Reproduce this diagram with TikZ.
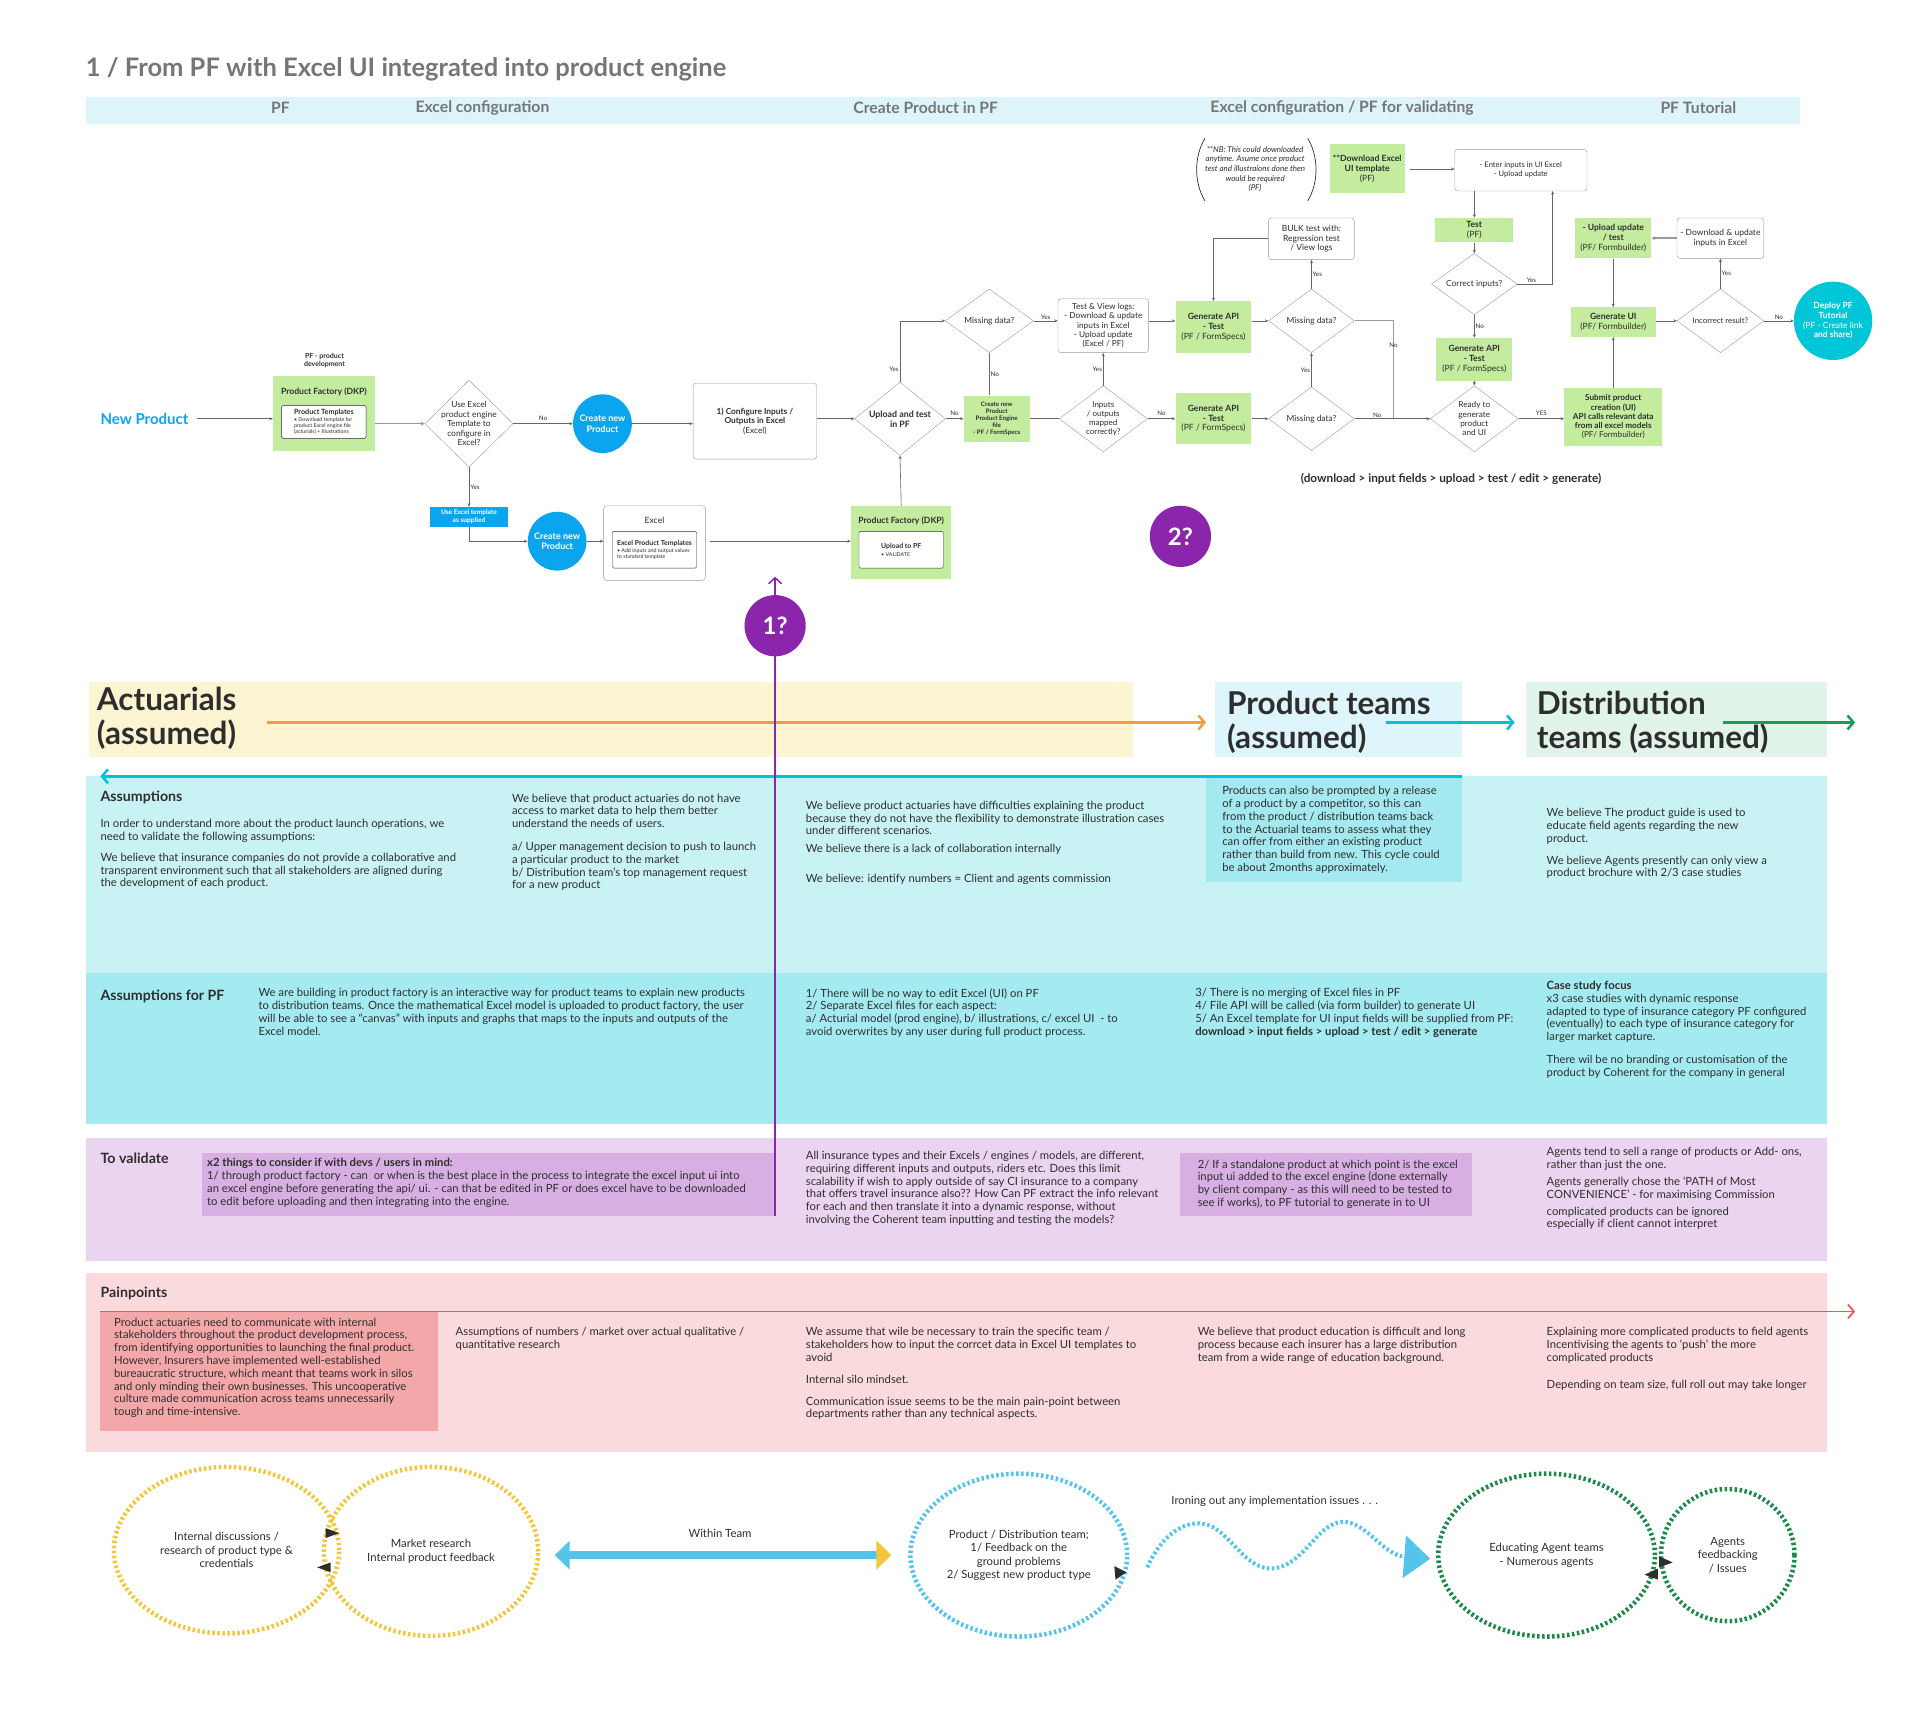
\documentclass[tikz,border=0pt]{standalone}
\usepackage{fontspec}
\setmainfont{Lato}
\usetikzlibrary{shapes.geometric,arrows.meta,positioning}

\definecolor{titlegray}{HTML}{767676}
\definecolor{headband}{HTML}{DDF4FB}
\definecolor{linegray}{HTML}{666666}
\definecolor{boxgray}{HTML}{9A9A9A}
\definecolor{darktxt}{HTML}{2E2E2E}
\definecolor{pfgreen}{HTML}{C3EC9E}
\definecolor{pfblue}{HTML}{0BA5EF}
\definecolor{tutcyan}{HTML}{00C6D8}
\definecolor{qpurple}{HTML}{8B25AC}
\definecolor{actyellow}{HTML}{FDF4D2}
\definecolor{prodblue}{HTML}{DDF5FB}
\definecolor{distgreen}{HTML}{E1F4EA}
\definecolor{arrorange}{HTML}{F59B46}
\definecolor{arrcyan}{HTML}{00C2D6}
\definecolor{arrgreen}{HTML}{1E9A58}
\definecolor{assband}{HTML}{C9F2F5}
\definecolor{assdark}{HTML}{A4E9F0}
\definecolor{pfband}{HTML}{A3EBF1}
\definecolor{valband}{HTML}{EAD4EF}
\definecolor{valdark}{HTML}{D7AFE2}
\definecolor{painband}{HTML}{FADADC}
\definecolor{paindark}{HTML}{F4A7A8}
\definecolor{painred}{HTML}{E8585E}
\definecolor{ringyellow}{HTML}{F2C73C}
\definecolor{ringcyan}{HTML}{54C4EC}
\definecolor{ringgreen}{HTML}{1C8A48}

\begin{document}
\begin{tikzpicture}[x=1.2245pt, y=-1.2245pt,
  dsz/.style 2 args={minimum width=#1*1.2245pt, minimum height=#2*1.2245pt},
  flow/.style={draw=linegray, line width=0.6pt, -{Stealth[length=3.5pt,width=3pt]}},
  link/.style={draw=linegray, line width=0.6pt},
  fatflow/.style={draw=boxgray, line width=1.4pt, -{Stealth[length=4pt,width=4pt]}},
  lbl/.style={font=\fontsize{6.3}{7}\selectfont, text=darktxt, inner sep=1pt},
  gbox/.style={fill=pfgreen, align=center, text=darktxt, inner sep=1pt, font=\bfseries\fontsize{8.6}{9.8}\selectfont},
  wbox/.style={draw=boxgray, fill=white, rounded corners=3pt, align=center, text=darktxt, inner sep=1pt, font=\fontsize{8.5}{9.5}\selectfont},
  inbox/.style={draw=darktxt, fill=white, rounded corners=1.5pt, align=left, text=darktxt, inner sep=2pt},
  decide/.style={diamond, draw=boxgray, fill=white, align=center, inner sep=-8pt, text=darktxt, font=\fontsize{8.4}{9.6}\selectfont},
  bluedot/.style={circle, fill=pfblue, text=white, align=center, inner sep=0pt, dsz={48}{48}, font=\bfseries\fontsize{9}{10.5}\selectfont},
  quest/.style={circle, fill=qpurple, text=white, inner sep=0pt, dsz={50}{50}, font=\bfseries\fontsize{24}{26}\selectfont},
  body/.style={anchor=north west, align=left, inner sep=0pt, text=darktxt, font=\fontsize{11.3}{12.8}\selectfont},
  bandhead/.style={anchor=west, inner sep=0pt, text=darktxt, font=\bfseries\fontsize{14.2}{16}\selectfont},
  teamhead/.style={anchor=west, align=left, inner sep=0pt, text=darktxt, font=\bfseries\fontsize{31.5}{34}\selectfont},
  teamarrow/.style={line width=2.5pt, -{Straight Barb[length=6pt,width=14pt]}},
  colhead/.style={inner sep=0pt, text=titlegray, font=\bfseries\fontsize{15.7}{17}\selectfont},
  ring/.style={ellipse, line width=4.5pt, dash pattern=on 2.5pt off 2.5pt, align=center, text=darktxt, font=\fontsize{11.3}{13.5}\selectfont},
]
\useasboundingbox (0,0) rectangle (1568,1407);
\fill[white] (0,0) rectangle (1568,1407);

% title and column header
\node[anchor=west, inner sep=0pt, text=titlegray, font=\bfseries\fontsize{25.5}{30}\selectfont] (title) at (70,57) {1 / From PF with Excel UI integrated into product engine};
\fill[headband] (70,79) rectangle (1470,101);
\node[colhead] (hPF) at (229,88) {PF};
\node[colhead] (hXl) at (394,88) {Excel configuration};
\node[colhead] (hCreate) at (756,88) {Create Product in PF};
\node[colhead] (hValid) at (1096,88) {Excel configuration / PF for validating};
\node[colhead] (hTut) at (1387,88) {PF Tutorial};

% flow: nodes
\node[anchor=west, inner sep=0pt, text=pfblue, font=\bfseries\fontsize{15}{18}\selectfont] (np) at (82,342) {New Product};
\node[align=center, text=darktxt, font=\bfseries\fontsize{7}{8}\selectfont] (pfdev) at (265,294) {PF - product\\development};
\node[gbox, dsz={83}{61}] (pfk) at (264.5,337.5) {};
\node[text=darktxt, font=\bfseries\fontsize{8.6}{9.5}\selectfont] (pfkT) at (264.5,320) {Product Factory (DKP)};
\node[inbox, dsz={69}{27}, font=\fontsize{5.3}{6.1}\selectfont] (pfkIn) at (264.5,344.5) {\textbf{\fontsize{7.2}{8}\selectfont Product Templates}\\• Download template for\\product Excel engine file\\(acturials) + Illustrations};
\node[decide, dsz={72}{71}] (d1) at (383,346) {Use Excel\\product engine\\Template to\\configure in\\Excel?};
\node[bluedot] (c1) at (492,346) {Create new\\Product};
\node[wbox, dsz={101}{62}, font=\bfseries\fontsize{8.3}{9.8}\selectfont] (cfg) at (616.5,344) {1) Configure Inputs /\\Outputs in Excel\\\mdseries (Excel)};
\node[decide, dsz={74}{60}, font=\bfseries\fontsize{8.8}{10}\selectfont] (d2) at (735,342) {Upload and test\\in PF};
\node[decide, dsz={72}{52}] (d3) at (808,262) {Missing data?};
\node[gbox, dsz={54}{38}, font=\bfseries\fontsize{6.2}{7}\selectfont] (gEng) at (814,342) {Create new\\Product\\Product Engine\\file\\- PF / FormSpecs};
\node[decide, dsz={72}{54}, font=\fontsize{8}{9.2}\selectfont] (d4) at (901,342) {Inputs\\/ outputs\\mapped\\correctly?};
\node[wbox, dsz={74}{44}, font=\fontsize{8.3}{9.2}\selectfont] (tv) at (901,266) {Test \& View logs:\\- Download \& update\\inputs in Excel\\- Upload update\\(Excel / PF)};
\node[gbox, dsz={62}{42}] (gApi1) at (991,267) {Generate API\\- Test\\\mdseries (PF / FormSpecs)};
\node[gbox, dsz={62}{42}] (gApi2) at (991,342) {Generate API\\- Test\\\mdseries (PF / FormSpecs)};
\node[decide, dsz={70}{52}] (d5) at (1071,262) {Missing data?};
\node[decide, dsz={70}{52}] (d6) at (1071,342) {Missing data?};
\node[wbox, dsz={70}{34}] (bulk) at (1071,195) {BULK test with:\\Regression test\\/ View logs};
\node[align=center, text=darktxt, font=\itshape\fontsize{8}{9.6}\selectfont] (nb) at (1025,138) {**NB: This could downloaded\\anytime. Asume once product\\test and illustraions done then\\would be required\\(PF)};
\draw[darktxt, line width=0.7pt] (984,113) .. controls (975,128) and (975,149) .. (984,164);
\draw[darktxt, line width=0.7pt] (1068,113) .. controls (1077,128) and (1077,149) .. (1068,164);
\node[gbox, dsz={61}{40}] (gDl) at (1116.5,138) {**Download Excel\\UI template\\\mdseries (PF)};
\node[wbox, dsz={108}{34}, font=\fontsize{7.6}{9}\selectfont] (enter) at (1242,139) {- Enter inputs in UI Excel\\- Upload update};
\node[gbox, dsz={64}{20}] (gTest) at (1204,188) {Test\\\mdseries (PF)};
\node[decide, dsz={70}{50}] (d7) at (1204,232) {Correct inputs?};
\node[gbox, dsz={62}{35}] (gApi3) at (1204,293.5) {Generate API\\- Test\\\mdseries (PF / FormSpecs)};
\node[decide, dsz={72}{54}, font=\fontsize{8.2}{9.4}\selectfont] (d8) at (1204,342) {Ready to\\generate\\product\\and UI};
\node[gbox, dsz={80}{47}, font=\bfseries\fontsize{8.2}{9.2}\selectfont] (gSub) at (1317.5,340.5) {Submit product\\creation (UI)\\API calls relevant data\\from all excel models\\\mdseries (PF/ Formbuilder)};
\node[gbox, dsz={69}{24}] (gUI) at (1317.5,263) {Generate UI\\\mdseries (PF/ Formbuilder)};
\node[gbox, dsz={62}{33}] (gUp) at (1317.5,194.5) {- Upload update\\/ test\\\mdseries (PF/ Formbuilder)};
\node[wbox, dsz={71}{33}] (dlx) at (1405,194.5) {- Download \& update\\inputs in Excel};
\node[decide, dsz={71}{52}, font=\fontsize{7.8}{9}\selectfont] (d9) at (1405,262) {Incorrect result?};
\node[circle, fill=tutcyan, text=white, align=center, inner sep=0pt, dsz={64}{64}, font=\bfseries\fontsize{8.5}{9.6}\selectfont] (deploy) at (1497,262) {Deploy PF\\Tutorial\\\mdseries (PF - Create link\\and share)};
\node[text=darktxt, font=\bfseries\fontsize{11.8}{13}\selectfont] (steps) at (1185,391) {(download > input fields > upload > test / edit > generate)};
\node[fill=pfblue, text=white, align=center, inner sep=0pt, dsz={64}{16}, font=\bfseries\fontsize{6.6}{7.4}\selectfont] (bUse) at (383,422) {Use Excel template\\as supplied};
\node[bluedot] (c2) at (455,442) {Create new\\Product};
\node[wbox, dsz={83}{61}] (xl) at (534.5,443.5) {};
\node[text=darktxt, font=\fontsize{8.6}{9.5}\selectfont] (xlT) at (534.5,425) {Excel};
\node[inbox, dsz={69}{30}, font=\fontsize{5.3}{6.2}\selectfont] (xlIn) at (534.5,449) {\textbf{\fontsize{6.9}{8}\selectfont Excel Product Templates}\\[1pt]• Add inputs and output values\\to standard template};
\node[gbox, dsz={82}{60}] (pfk2) at (736,443) {};
\node[text=darktxt, font=\bfseries\fontsize{8.6}{9.5}\selectfont] (pfk2T) at (736,425) {Product Factory (DKP)};
\node[inbox, dsz={69}{30}, font=\fontsize{5.3}{6.2}\selectfont] (pfk2In) at (736,449) {\textbf{\fontsize{6.9}{8}\selectfont Upload to PF}\\[2pt]• VALIDATE};
\node[quest] (q2) at (964,438) {2?};

% flow: connectors
\draw[flow, shorten <=8pt] (np.east) -- (np.east -| pfk.west);
\draw[fatflow] (pfk.east |- d1) -- (d1.west);
\draw[flow] (d1) -- (c1) node[lbl, midway, above=2pt] {No};
\draw[flow] (c1) -- (cfg.west |- c1);
\draw[flow] (cfg.east |- d2) -- (d2.west);
\draw[flow] (d2.north) |- (d3.west) node[lbl, pos=0.1, left] {Yes};
\draw[flow] (d2.east) -- (d2.east -| gEng.west) node[lbl, midway, above=2pt] {No};
\draw[link] (d3.south) -- (d3.south |- gEng.north) node[lbl, midway, right] {No};
\draw[flow] (d3.east) -- (d3.east -| tv.west) node[lbl, midway, above] {Yes};
\draw[link] (gEng) -- (d4);
\draw[flow] (d4.north) -- (tv.south) node[lbl, midway, left] {Yes};
\draw[flow] (d4) -- (gApi2) node[lbl, midway, above=2pt] {No};
\draw[flow] (tv.east |- d3) -- (gApi1.west |- d3);
\draw[flow] (gApi1.east |- d5) -- (d5.west);
\draw[flow] (gApi2) -- (d6);
\draw[flow] (d6.north) -- (d5.south) node[lbl, midway, left] {Yes};
\draw[flow] (d5.north) -- (bulk.south) node[lbl, midway, right] {Yes};
\draw[flow] (bulk.west) -| (gApi1.north);
\coordinate (j1) at (1138,262);
\draw[draw=boxgray, line width=1.3pt] (d5.east) -- (j1) |- (d8.west) node[lbl, pos=0.15, above=1pt, text=darktxt] {No};
\draw[flow] (d6) -- (d8) node[lbl, pos=0.3, above] {No};
\draw[flow, shorten <=5pt] (gDl) -- (enter.west |- gDl);
\draw[flow] (gTest.north |- enter.south) -- (gTest.north);
\draw[flow] (gTest) -- (d7);
\coordinate (e1) at (1268,156);
\draw[flow] (d7.east) -| (e1) node[lbl, pos=0.2, above] {Yes};
\draw[flow] (d7) -- (gApi3) node[lbl, midway, right] {No};
\draw[flow] (gApi3) -- (d8);
\draw[flow] (d8.east) -- (d8.east -| gSub.west) node[lbl, midway, above=2pt] {YES};
\draw[flow] (gSub) -- (gUI);
\draw[flow] (gUp) -- (gUI);
\draw[flow] (gUI.east |- d9) -- (d9.west);
\draw[flow] (d9) -- (dlx) node[lbl, midway, right] {Yes};
\draw[fatflow] (dlx) -- (gUp);
\draw[flow] (d9) -- (deploy) node[lbl, midway, above] {No};
\draw[flow] (d1) -- (bUse) node[lbl, midway, right] {Yes};
\draw[flow] (bUse.south) |- (c2.west);
\draw[flow] (c2) -- (xl.west |- c2);
\draw[flow, shorten <=4pt] (xl.east |- c2) -- (pfk2.west |- c2);
\draw[flow] (pfk2.north) -- (d2.south);

% team lanes
\fill[actyellow] (73,557) rectangle (925,618);
\fill[prodblue] (992,557) rectangle (1194,618);
\fill[distgreen] (1246,557) rectangle (1492,618);
\node[teamhead] (tAct) at (79,587) {Actuarials\\(assumed)};
\node[teamhead] (tProd) at (1002,589.5) {Product teams\\(assumed)};
\node[teamhead] (tDist) at (1255,589.5) {Distribution\\teams (assumed)};
\coordinate (oA) at (218,590); \coordinate (oB) at (985,590);
\coordinate (cA) at (1132,590); \coordinate (cB) at (1237,590);
\coordinate (gA) at (1407,590); \coordinate (gB) at (1515,590);
\coordinate (bA) at (1194,634); \coordinate (bB) at (82,634);

% bands
\fill[assband] (70,634) rectangle (1492,795);
\fill[assdark] (985,634) rectangle (1194,720);
\fill[pfband] (70,795) rectangle (1492,918);
\fill[valband] (70,929) rectangle (1492,1030);
\fill[valdark] (165,942) rectangle (633,993);
\fill[valdark] (964,942) rectangle (1202,993);
\fill[painband] (70,1040) rectangle (1492,1186);
\fill[paindark] (82,1071) rectangle (358,1169);

\draw[teamarrow, arrorange] (oA) -- (oB);
\draw[teamarrow, arrcyan] (cA) -- (cB);
\draw[teamarrow, arrgreen] (gA) -- (gB);
\draw[teamarrow, arrcyan] (bA) -- (bB);
\coordinate (rA) at (82,1071); \coordinate (rB) at (1515,1071);
\draw[teamarrow, painred, line width=1.8pt] (rA) -- (rB);

% question 1
\coordinate (pBot) at (633,993); \coordinate (pTop) at (633,471);
\draw[qpurple, line width=1.5pt, -{Straight Barb[length=6pt,width=13pt]}] (pBot) -- (pTop);
\node[quest] (q1) at (633,511) {1?};

% assumptions
\node[bandhead] (hAsm) at (82,651) {Assumptions};
\node[body] (asm1) at (82,669) {In order to understand more about the product launch operations, we\\need to validate the following assumptions:\\[8pt]We believe that insurance companies do not provide a collaborative and\\transparent environment such that all stakeholders are aligned during\\the development of each product.};
\node[body] (asm2) at (418,648) {We believe that product actuaries do not have\\access to market data to help them better\\understand the needs of users.\\[10pt]a/ Upper management decision to push to launch\\a particular product to the market\\b/ Distribution team’s top management request\\for a new product};
\node[body] (asm3) at (658,654) {We believe product actuaries have difficulties explaining the product\\because they do not have the flexibility to demonstrate illustration cases\\under different scenarios.\\[5pt]We believe there is a lack of collaboration internally\\[17pt]We believe: identify numbers = Client and agents commission};
\node[body] (asm4) at (998,642) {Products can also be prompted by a release\\of a product by a competitor, so this can\\from the product / distribution teams back\\to the Actuarial teams to assess what they\\can offer from either an existing product\\rather than build from new. This cycle could\\be about 2months approximately.};
\node[body] (asm5) at (1263,660) {We believe The product guide is used to\\educate field agents regarding the new\\product.\\[9pt]We believe Agents presently can only view a\\product brochure with 2/3 case studies};

% assumptions for PF
\node[bandhead] (hPFa) at (82,814) {Assumptions for PF};
\node[body] (pf1) at (211,807) {We are building in product factory is an interactive way for product teams to explain new products\\to distribution teams. Once the mathematical Excel model is uploaded to product factory, the user\\will be able to see a “canvas” with inputs and graphs that maps to the inputs and outputs of the\\Excel model.};
\node[body] (pf2) at (658,807) {1/ There will be no way to edit Excel (UI) on PF\\2/ Separate Excel files for each aspect:\\a/ Acturial model (prod engine), b/ illustrations, c/ excel UI\ \ - to\\avoid overwrites by any user during full product process.};
\node[body] (pf3) at (976,807) {3/ There is no merging of Excel files in PF\\4/ File API will be called (via form builder) to generate UI\\5/ An Excel template for UI input fields will be supplied from PF:\\\textbf{download > input fields > upload > test / edit > generate}};
\node[body] (pf4) at (1263,801) {\textbf{Case study focus}\\x3 case studies with dynamic response\\adapted to type of insurance category PF configured\\(eventually) to each type of insurance category for\\larger market capture.\\[10pt]There wil be no branding or customisation of the\\product by Coherent for the company in general};

% to validate
\node[bandhead] (hVal) at (82,946) {To validate};
\node[body] (val1) at (169,946) {\textbf{x2 things to consider if with devs / users in mind:}\\1/ through product factory - can\ \ or when is the best place in the process to integrate the excel input ui into\\an excel engine before generating the api/ ui. - can that be edited in PF or does excel have to be downloaded\\to edit before uploading and then integrating into the engine.};
\node[body] (val2) at (658,940) {All insurance types and their Excels / engines / models, are different,\\requiring different inputs and outputs, riders etc. Does this limit\\scalability if wish to apply outside of say CI insurance to a company\\that offers travel insurance also?? How Can PF extract the info relevant\\for each and then translate it into a dynamic response, without\\involving the Coherent team inputting and testing the models?};
\node[body] (val3) at (978,947) {2/ If a standalone product at which point is the excel\\input ui added to the excel engine (done externally\\by client company - as this will need to be tested to\\see if works), to PF tutorial to generate in to UI};
\node[body] (val4) at (1263,937) {Agents tend to sell a range of products or Add- ons,\\rather than just the one.\\[4pt]Agents generally chose the ‘PATH of Most\\CONVENIENCE’ - for maximising Commission\\[4pt]complicated products can be ignored\\especially if client cannot interpret};

% painpoints
\node[bandhead] (hPain) at (82,1056) {Painpoints};
\node[body] (pain1) at (93,1076) {Product actuaries need to communicate with internal\\stakeholders throughout the product development process,\\from identifying opportunities to launching the final product.\\However, Insurers have implemented well-established\\bureaucratic structure, which meant that teams work in silos\\and only minding their own businesses. This uncooperative\\culture made communication across teams unnecessarily\\tough and time-intensive.};
\node[body] (pain2) at (372,1084) {Assumptions of numbers / market over actual qualitative /\\quantitative research};
\node[body] (pain3) at (658,1084) {We assume that wile be necessary to train the specific team /\\stakeholders how to input the corrcet data in Excel UI templates to\\avoid\\[9pt]Internal silo mindset.\\[9pt]Communication issue seems to be the main pain-point between\\departments rather than any technical aspects.};
\node[body] (pain4) at (978,1084) {We believe that product education is difficult and long\\process because each insurer has a large distribution\\team from a wide range of education background.};
\node[body] (pain5) at (1263,1084) {Explaining more complicated products to field agents\\Incentivising the agents to ‘push’ the more\\complicated products\\[14pt]Depending on team size, full roll out may take longer};

% bottom cycle
\node[ring, draw=ringyellow, dsz={184}{136}] (r1) at (185,1266) {Internal discussions /\\research of product type \&\\credentials};
\node[ring, draw=ringyellow, dsz={175}{138}] (r2) at (352,1267) {Market research\\Internal product feedback};
\fill[darktxt] (266,1248) -- (277,1252) -- (266,1256) -- cycle;
\fill[darktxt] (270,1276) -- (259,1280) -- (270,1284) -- cycle;
\node[text=darktxt, font=\fontsize{11.3}{13}\selectfont] (wt) at (588,1252) {Within Team};
\coordinate (w1) at (453,1270); \coordinate (w2) at (728,1270);
\draw[line width=8pt, ringcyan, {Triangle[length=15pt,width=28pt]}-{Triangle[length=15pt,width=28pt,color=ringyellow]}] (w1) -- (w2);
\node[ring, draw=ringcyan, dsz={177}{133}] (r3) at (832,1270) {Product / Distribution team;\\1/ Feedback on the\\ground problems\\2/ Suggest new product type};
\fill[darktxt] (910,1279) -- (920,1284) -- (911,1290) -- cycle;
\node[text=darktxt, font=\fontsize{11.3}{13}\selectfont] (iron) at (1041,1226) {Ironing out any implementation issues . . .};
\coordinate (wv0) at (937,1280); \coordinate (wv1) at (1168,1273);
\draw[ringcyan, line width=4pt, dash pattern=on 2.5pt off 2.5pt, -{Triangle[length=26pt,width=42pt]}] (wv0) .. controls (950,1250) and (975,1235) .. (995,1250) .. controls (1012,1263) and (1025,1290) .. (1050,1278) .. controls (1070,1268) and (1080,1240) .. (1100,1243) .. controls (1118,1246) and (1130,1270) .. (wv1);
\node[ring, draw=ringgreen, dsz={177}{133}] (r4) at (1263,1270) {Educating Agent teams\\- Numerous agents};
\node[ring, draw=ringgreen, dsz={109}{108}] (r5) at (1411,1270) {Agents\\feedbacking\\/ Issues};
\fill[darktxt] (1355,1271) -- (1366,1276) -- (1355,1280) -- cycle;
\fill[darktxt] (1354,1281) -- (1343,1286) -- (1354,1290) -- cycle;
\end{tikzpicture}
\end{document}
